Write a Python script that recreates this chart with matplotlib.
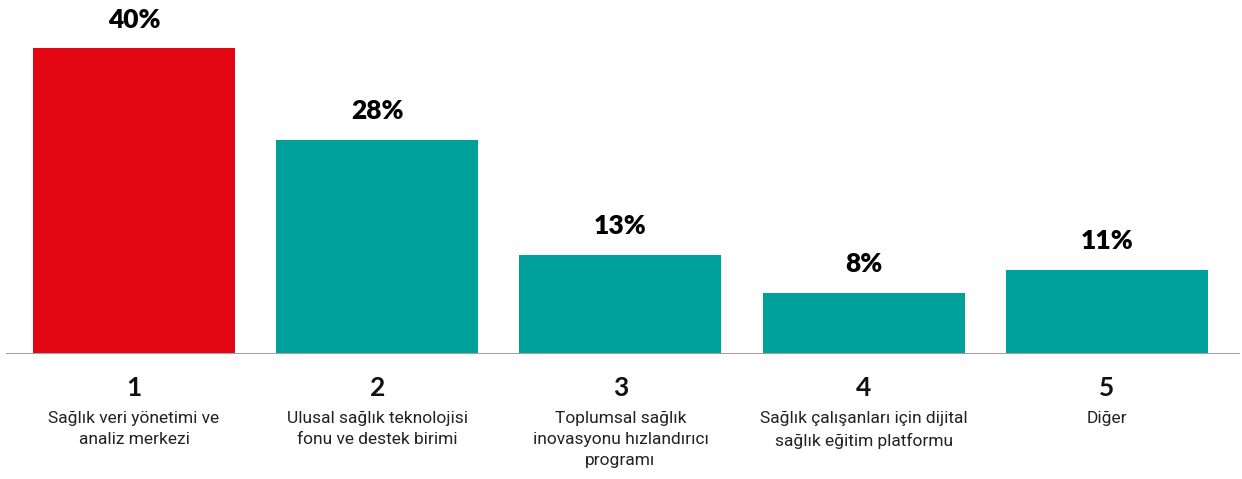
import matplotlib.pyplot as plt

# Survey results: share of votes per option
ranks = ["1", "2", "3", "4", "5"]
labels = [
    "Sağlık veri yönetimi ve\nanaliz merkezi",
    "Ulusal sağlık teknolojisi\nfonu ve destek birimi",
    "Toplumsal sağlık\ninovasyonu hızlandırıcı\nprogramı",
    "Sağlık çalışanları için dijital\nsağlık eğitim platformu",
    "Diğer",
]
values = [40, 28, 13, 8, 11]

red = "#E30613"
teal = "#00A19A"
colors = [red] + [teal] * 4

fig = plt.figure(figsize=(12.42, 4.79), dpi=100)
ax = fig.add_axes([6 / 1242, 125 / 479, 1234 / 1242, 354 / 479])

x = list(range(len(values)))
bars = ax.bar(x, values, width=0.83, color=colors, zorder=2)

ax.set_xlim(-0.526, 4.547)
ax.set_ylim(0, 46.3)

for b, v in zip(bars, values):
    ax.annotate(f"{v}%", (b.get_x() + b.get_width() / 2, v),
                xytext=(0, 12), textcoords="offset points",
                ha="center", va="bottom", fontsize=19, fontweight="heavy",
                family="Lato", color="black")

# baseline
ax.axhline(0, color="#A0A0A0", lw=2.2, zorder=3)

for xi, r, lab in zip(x, ranks, labels):
    ax.annotate(r, (xi, 0), xytext=(0, -16), textcoords="offset points",
                ha="center", va="top", fontsize=19, family="Lato",
                fontweight="bold", color="#111111")
    ax.annotate(lab, (xi, 0), xytext=(0, -41), textcoords="offset points",
                ha="center", va="top", fontsize=12.5, family="Roboto",
                color="#222222", linespacing=1.5)

ax.axis("off")
fig.savefig("out.png", dpi=100)
